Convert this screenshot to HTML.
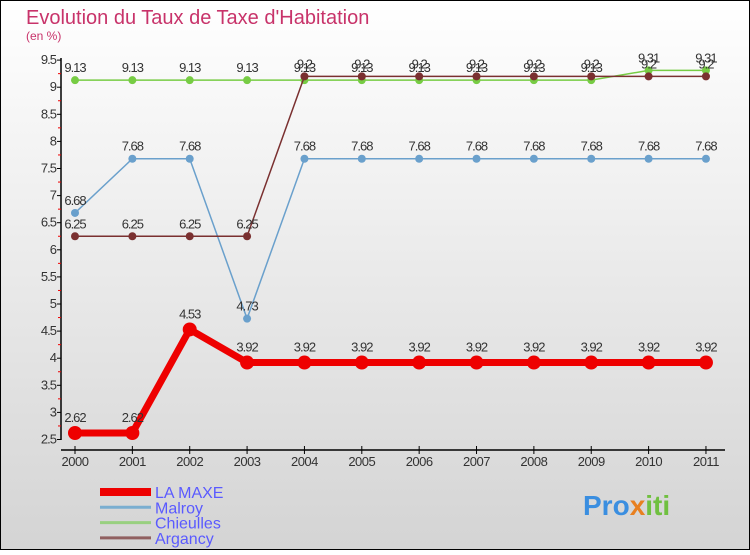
<!DOCTYPE html>
<html><head><meta charset="utf-8"><style>
html,body{margin:0;padding:0}
body{width:750px;height:550px;overflow:hidden;font-family:"Liberation Sans",sans-serif}
</style></head><body>
<svg id="c" width="750" height="550" xmlns="http://www.w3.org/2000/svg">
<defs><linearGradient id="bg" x1="0" y1="0" x2="0" y2="1"><stop offset="0" stop-color="#ffffff"/><stop offset="1" stop-color="#d4d4d4"/></linearGradient></defs>
<rect x="0.5" y="0.5" width="749" height="549" fill="url(#bg)" stroke="#000"/>
<text x="26" y="24" font-size="20" fill="#c8336a">Evolution du Taux de Taxe d'Habitation</text>
<text x="26" y="40" font-size="12" fill="#c8336a">(en %)</text>
<g id="axes"></g><g id="series"></g><g id="legend"></g>
<text x="583" y="515" font-size="28" font-weight="bold" fill="#3a8ee0">Pro<tspan fill="#e88020">x</tspan><tspan fill="#70c040">iti</tspan></text>
</svg>
<script>
const years=[2000,2001,2002,2003,2004,2005,2006,2007,2008,2009,2010,2011];
const laMaxe=[2.62,2.62,4.53,3.92,3.92,3.92,3.92,3.92,3.92,3.92,3.92,3.92];
const malroy=[6.68,7.68,7.68,4.73,7.68,7.68,7.68,7.68,7.68,7.68,7.68,7.68];
const chieulles=[9.13,9.13,9.13,9.13,9.13,9.13,9.13,9.13,9.13,9.13,9.31,9.31];
const argancy=[6.25,6.25,6.25,6.25,9.2,9.2,9.2,9.2,9.2,9.2,9.2,9.2];
const yTicks=[2.5,3,3.5,4,4.5,5,5.5,6,6.5,7,7.5,8,8.5,9,9.5];
const seriesNames=["LA MAXE","Malroy","Chieulles","Argancy"];
const NS="http://www.w3.org/2000/svg";
const X=i=>75+i*57.36;
const Y=v=>439.5-(v-2.5)*54.2;
function mk(t,a,p){const e=document.createElementNS(NS,t);for(const k in a)e.setAttribute(k,a[k]);p.appendChild(e);return e;}
const ax=document.getElementById('axes');
const yl=mk('line',{x1:61,y1:58,x2:61,y2:440,stroke:'#000','stroke-width':1.5},ax);


const xl=mk('line',{x1:61,y1:450,x2:725,y2:450,stroke:'#000','stroke-width':1.5},ax);


yTicks.forEach(v=>{const y=Y(v);
mk('line',{x1:57,y1:y,x2:61,y2:y,stroke:'#000'},ax);
const t=mk('text',{x:56,y:y+4,'font-size':13,fill:'#333','text-anchor':'end','letter-spacing':'-1'},ax);t.textContent=String(v);


if(v<9.5)mk('line',{x1:58,y1:Y(v+0.25),x2:61,y2:Y(v+0.25),stroke:'#e00'},ax);});
years.forEach((yr,i)=>{mk('line',{x1:X(i),y1:446,x2:X(i),y2:454,stroke:'#000'},ax);
const t=mk('text',{x:X(i),y:466,'font-size':13,fill:'#333','text-anchor':'middle','letter-spacing':'-0.5'},ax);t.textContent=yr;

});
const sg=document.getElementById('series');
function draw(data,color,w,r,name,labelDy){
const g=mk('g',{},sg);


mk('polyline',{points:data.map((v,i)=>X(i)+','+Y(v)).join(' '),fill:'none',stroke:color,'stroke-width':w},g);
data.forEach((v,i)=>{const c=mk('circle',{cx:X(i),cy:Y(v),r:r,fill:color},g);


const t=mk('text',{x:X(i),y:Y(v)+labelDy,'font-size':13,fill:'#333','text-anchor':'middle','letter-spacing':'-1'},g);t.textContent=String(v);

});}
draw(chieulles,'#77cc44',1.5,4,'chieulles',-8);
draw(malroy,'#6aa0cc',1.5,4,'malroy',-8);
draw(argancy,'#7a3030',1.5,4,'argancy',-8);
draw(laMaxe,'#ee0000',7,7,'la-maxe',-11);
const lg=document.getElementById('legend');
const lc=['#ee0000','#7aaed0','#99d080','#906060'],lw=[8,3,3,3];
seriesNames.forEach((n,i)=>{const y=492+i*15.3;
const l=mk('line',{x1:100,y1:y,x2:151,y2:y,stroke:lc[i],'stroke-width':lw[i]},lg);


const t=mk('text',{x:155,y:y+6,'font-size':16,fill:'#5a5aff'},lg);t.textContent=n;

});
</script>
</body></html>
